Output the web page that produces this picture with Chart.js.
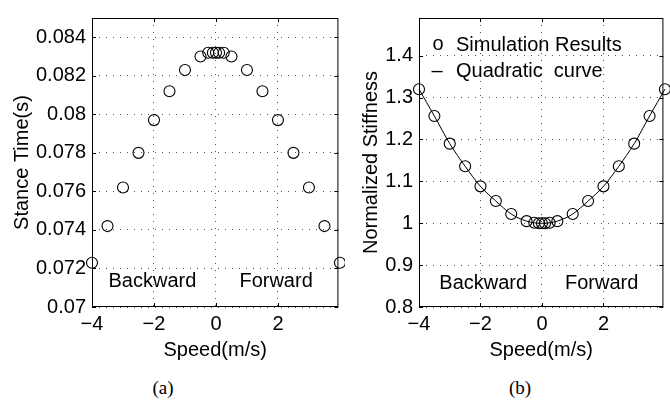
<!DOCTYPE html>
<html>
<head>
<meta charset="utf-8">
<script src="https://cdn.jsdelivr.net/npm/chart.js@4.4.1/dist/chart.umd.min.js"></script>
<style>
  html, body { margin: 0; padding: 0; background: #fff; }
  #wrap { position: relative; width: 670px; height: 403px; overflow: hidden; background: #fff; }
  canvas { position: absolute; top: 0; }
  #chart-a { left: 0; }
  #chart-b { left: 335px; }
  .cap { position: absolute; top: 377px; line-height: 22px; font-size: 19px; font-family: 'Liberation Serif', 'Times New Roman', serif; color: #000; transform: translateX(-50%); }
</style>
</head>
<body>
<div id="wrap">
  <canvas id="chart-a" width="345" height="365"></canvas>
  <canvas id="chart-b" width="335" height="365"></canvas>
  <div class="cap" style="left:163px">(a)</div>
  <div class="cap" style="left:520px">(b)</div>
</div>
<script>
'use strict';

/* ====== data ====== */
const speed = [-4, -3.5, -3, -2.5, -2, -1.5, -1, -0.5, -0.25, -0.1, 0, 0.1, 0.25, 0.5, 1, 1.5, 2, 2.5, 3, 3.5, 4];
const stanceTime = [0.0723, 0.0742, 0.0762, 0.0780, 0.0797, 0.0812, 0.0823, 0.0830, 0.0832, 0.0832, 0.0832,
                    0.0832, 0.0832, 0.0830, 0.0823, 0.0812, 0.0797, 0.0780, 0.0762, 0.0742, 0.0723];
const stiffness = [1.320, 1.256, 1.190, 1.136, 1.088, 1.053, 1.022, 1.005, 1.001, 1.000, 1.000,
                   1.000, 1.001, 1.005, 1.022, 1.053, 1.088, 1.136, 1.190, 1.256, 1.320];

const speedTicks = [-4, -2, 0, 2];
const stanceTicks = [0.07, 0.072, 0.074, 0.076, 0.078, 0.08, 0.082, 0.084];
const stiffnessTicks = [0.8, 0.9, 1, 1.1, 1.2, 1.3, 1.4];
const directionLabels = ['Backward', 'Forward'];
const legendLabels = ['Simulation Results', 'Quadratic  curve'];

const FONT = "'Liberation Sans', Arial, Helvetica, sans-serif";
Chart.defaults.font.family = FONT;
Chart.defaults.font.size = 20;
Chart.defaults.color = '#000';

const fmt = v => String(+(+v).toFixed(4)).replace('-', '\u2212');
const toPoints = ys => speed.map((x, i) => ({ x, y: ys[i] }));

// box, inward tick marks and in-plot texts (MATLAB look)
const framePlugin = {
  id: 'frame',
  afterDraw(chart, args, opts) {
    const { ctx, chartArea: a, scales } = chart;
    ctx.save();
    ctx.strokeStyle = '#000';
    ctx.lineWidth = 1;
    ctx.setLineDash([]);
    ctx.strokeRect(a.left + 0.5, a.top + 0.5, a.right - a.left - 1, a.bottom - a.top - 1);
    const tl = 4;
    ctx.beginPath();
    scales.x.ticks.forEach(t => {
      const px = Math.round(scales.x.getPixelForValue(t.value)) + 0.5;
      ctx.moveTo(px, a.bottom); ctx.lineTo(px, a.bottom - tl);
      ctx.moveTo(px, a.top); ctx.lineTo(px, a.top + tl);
    });
    scales.y.ticks.forEach(t => {
      const py = Math.round(scales.y.getPixelForValue(t.value)) + 0.5;
      ctx.moveTo(a.left, py); ctx.lineTo(a.left + tl, py);
      ctx.moveTo(a.right, py); ctx.lineTo(a.right - tl, py);
    });
    ctx.stroke();

    ctx.fillStyle = '#000';
    ctx.font = '20px ' + FONT;
    ctx.textAlign = 'center';
    ctx.textBaseline = 'middle';
    (opts.notes || []).forEach(n => {
      ctx.fillText(n.text, scales.x.getPixelForValue(n.x), scales.y.getPixelForValue(n.y));
    });

    if (opts.legend) {
      const lx = a.left, ly = a.top;
      ctx.fillText('o', lx + 19, ly + 26);
      ctx.fillText('\u2013', lx + 18, ly + 53);
      ctx.textAlign = 'left';
      ctx.fillText(legendLabels[0], lx + 37, ly + 27);
      ctx.fillText(legendLabels[1], lx + 37, ly + 53);
    }
    ctx.restore();
  }
};

function axes(yMin, yMax, yTicks, yTitle, yWidth, yTitlePad) {
  const grid = { color: '#555', lineWidth: 1, drawTicks: false };
  const border = { display: false, dash: [1, 6] };
  return {
    x: {
      type: 'linear', min: -4, max: 3.95,
      grid, border,
      afterBuildTicks: ax => { ax.ticks = speedTicks.map(v => ({ value: v })); },
      afterFit: ax => { ax.height = 58; },
      ticks: { padding: 5, callback: fmt, maxRotation: 0 },
      title: { display: true, text: 'Speed(m/s)', padding: { top: 0, bottom: 3 } }
    },
    y: {
      type: 'linear', min: yMin, max: yMax,
      grid, border,
      afterBuildTicks: ax => { ax.ticks = yTicks.map(v => ({ value: v })); },
      afterFit: ax => { ax.width = yWidth; },
      ticks: { padding: 6, callback: fmt },
      title: { display: true, text: yTitle, padding: { top: yTitlePad, bottom: 0 } }
    }
  };
}

const circleStyle = {
  showLine: false,
  pointStyle: 'circle',
  pointRadius: 5.5,
  pointBorderWidth: 1.1,
  pointBorderColor: '#000',
  pointBackgroundColor: 'rgba(0,0,0,0)',
  clip: false
};

const baseOptions = {
  responsive: false,
  animation: false,
  devicePixelRatio: 1,
  events: [],
  plugins: { legend: { display: false }, tooltip: { enabled: false } }
};

new Chart(document.getElementById('chart-a'), {
  type: 'scatter',
  data: {
    datasets: [{ label: 'Stance Time', data: toPoints(stanceTime), ...circleStyle }]
  },
  options: {
    ...baseOptions,
    layout: { padding: { left: 0, top: 6, right: 5, bottom: 0 } },
    scales: axes(0.07, 0.085, stanceTicks, 'Stance Time(s)', 92, 10),
    plugins: {
      ...baseOptions.plugins,
      frame: { notes: [{ text: directionLabels[0], x: -2.05, y: 0.0713 }, { text: directionLabels[1], x: 1.94, y: 0.0713 }] }
    }
  },
  plugins: [framePlugin]
});

new Chart(document.getElementById('chart-b'), {
  type: 'scatter',
  data: {
    datasets: [
      { label: legendLabels[0], data: toPoints(stiffness), ...circleStyle },
      {
        label: legendLabels[1], data: toPoints(stiffness),
        showLine: true, pointRadius: 0, borderColor: '#000', borderWidth: 1,
        cubicInterpolationMode: 'monotone', clip: false
      }
    ]
  },
  options: {
    ...baseOptions,
    layout: { padding: { left: 0, top: 6, right: 4, bottom: 0 } },
    scales: axes(0.8, 1.49, stiffnessTicks, 'Normalized Stiffness', 84, 24),
    plugins: {
      ...baseOptions.plugins,
      frame: {
        legend: true,
        notes: [{ text: directionLabels[0], x: -1.91, y: 0.857 }, { text: directionLabels[1], x: 1.94, y: 0.857 }]
      }
    }
  },
  plugins: [framePlugin]
});
</script>
</body>
</html>
